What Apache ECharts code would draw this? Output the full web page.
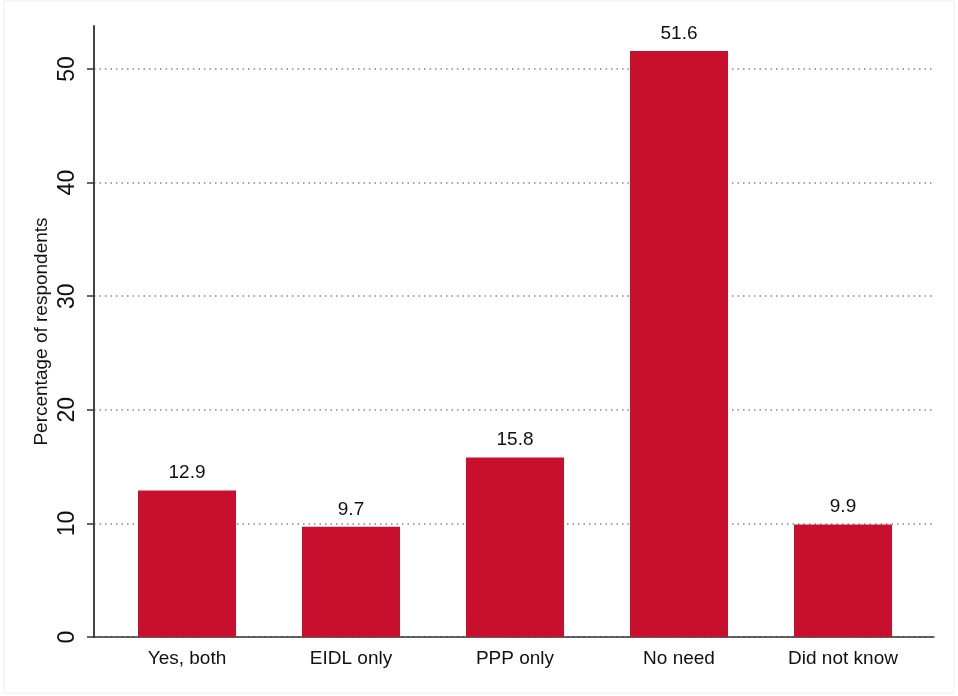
<!DOCTYPE html>
<html>
<head>
<meta charset="utf-8">
<script src="https://cdn.jsdelivr.net/npm/echarts@6/dist/echarts.min.js"></script>
<style>
  html, body { margin: 0; padding: 0; background: #fff; }
  #chart { width: 958px; height: 696px; }
</style>
</head>
<body>
<div id="chart"></div>
<script>
const categories = ["Yes, both", "EIDL only", "PPP only", "No need", "Did not know"];
const shares = [12.9, 9.7, 15.8, 51.6, 9.9];
const tickMax = 50;
const axisTop = 53.8;

const font = "Liberation Sans, Arial, sans-serif";
const barColor = "#c8102e";

let myChart = echarts.init(document.getElementById("chart"), null, { renderer: "canvas" });

let option = {
  animation: false,
  backgroundColor: "#fff",
  graphic: [
    {
      type: "rect",
      shape: { x: 4, y: 1, width: 950, height: 692 },
      style: { fill: "none", stroke: "#eeeeee", lineWidth: 1 },
      silent: true
    }
  ],
  grid: [
    // frame: axis lines only
    { left: 94, right: 24, top: 26, bottom: 59 },
    // ticks, labels and dotted lines
    { left: 94, right: 24, top: 69, bottom: 59 },
    // bars
    { left: 105, right: 33, top: 26, bottom: 59 }
  ],
  xAxis: [
    {
      gridIndex: 0, type: "value", min: 0, max: 1,
      axisLine: { show: true, onZero: false, lineStyle: { color: "#333", width: 1.5 } },
      axisTick: { show: false }, axisLabel: { show: false }, splitLine: { show: false }
    },
    {
      gridIndex: 1, type: "value", min: 0, max: 1,
      axisLine: { show: false }, axisTick: { show: false }, axisLabel: { show: false }, splitLine: { show: false }
    },
    {
      gridIndex: 2, type: "category", data: categories, boundaryGap: true,
      axisLine: { show: false }, axisTick: { show: false },
      axisLabel: { color: "#111", fontSize: 19, fontFamily: font, margin: 12 }
    }
  ],
  yAxis: [
    {
      gridIndex: 0, type: "value", min: 0, max: axisTop,
      axisLine: { show: true, lineStyle: { color: "#444", width: 2 } },
      axisTick: { show: false }, axisLabel: { show: false }, splitLine: { show: false },
      name: "Percentage of respondents",
      nameLocation: "middle", nameRotate: 90, nameGap: 43,
      nameTextStyle: { color: "#111", fontSize: 19, fontFamily: font }
    },
    {
      gridIndex: 1, type: "value", min: 0, max: tickMax, interval: 10,
      axisLine: { show: false },
      axisTick: { show: true, length: 7, lineStyle: { color: "#333", width: 1.5 } },
      axisLabel: { color: "#111", fontSize: 23, fontFamily: font, rotate: 90, margin: 15 },
      splitLine: { show: true, lineStyle: { color: "#888", type: [1.5, 4], width: 1.5 } }
    },
    {
      gridIndex: 2, type: "value", min: 0, max: axisTop,
      axisLine: { show: false }, axisTick: { show: false }, axisLabel: { show: false }, splitLine: { show: false }
    }
  ],
  series: [
    {
      type: "bar",
      xAxisIndex: 2,
      yAxisIndex: 2,
      data: shares,
      barWidth: 98,
      itemStyle: { color: barColor },
      label: {
        show: true, position: "top", distance: 8,
        color: "#111", fontSize: 19, fontFamily: font,
        formatter: (p) => p.value.toFixed(1)
      }
    }
  ]
};

myChart.setOption(option);
window.addEventListener("resize", myChart.resize);
</script>
</body>
</html>
